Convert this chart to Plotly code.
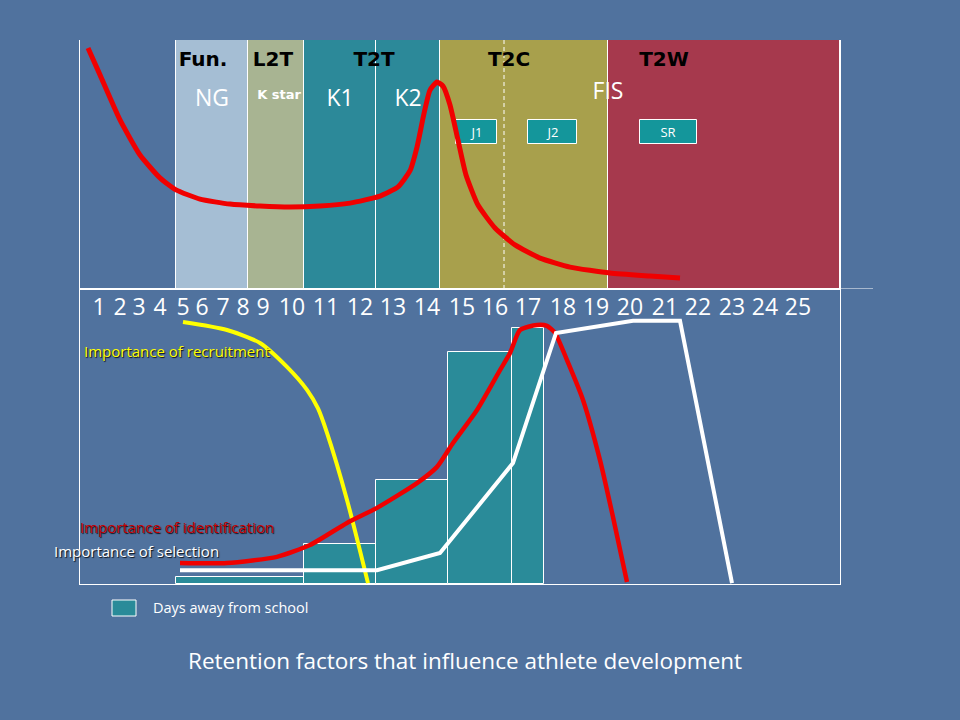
import plotly.graph_objects as go

# ---------------- data ----------------
# top panel: development stages (horizontal position scale 80..840, level 0..100)
phase_names = ["NG", "K star", "K1", "K2", "T2C", "T2W"]
phase_left = [176, 248, 304, 376, 440, 608]
phase_right = [248, 304, 376, 440, 608, 840]
phase_colors = ["rgb(165,190,212)", "rgb(168,180,146)", "rgb(44,137,153)",
                "rgb(44,137,153)", "rgb(168,160,76)", "rgb(166,57,77)"]

stage_labels = ["Fun.", "L2T", "T2T", "T2C", "T2W"]
stage_x = [203, 273, 374, 509, 664]
stage_y = [91.5, 91.5, 91.5, 91.5, 91.5]

sub_labels = ["NG", "K1", "K2", "FIS"]
sub_x = [212, 340, 408, 608]
sub_y = [75.9, 75.9, 75.9, 78.7]

kstar_label = ["K star"]
kstar_x = [279]
kstar_y = [77.5]

box_labels = ["J1", "J2", "SR"]
box_left = [456, 528, 640]
box_right = [497, 577, 697]
box_bottom = [58.2, 58.2, 58.2]
box_top = [67.9, 67.9, 67.9]

divider_x = [504, 504]
divider_y = [0, 100]

retention_x = [88, 100, 120, 140, 160, 176, 200, 230, 260, 290, 320, 350, 380, 398,
               410, 417, 424, 430, 437, 443, 450, 458, 466, 478, 495, 515, 540, 570,
               610, 650, 680]
retention_y = [96.8, 86, 67.9, 53.8, 44.6, 39.8, 36.1, 34.1, 33.3, 32.9, 33.3, 34.5,
               37.3, 41.0, 47.5, 57.0, 70.5, 79.9, 83.1, 81.5, 73.9, 59.8, 45.8, 33.7,
               24.5, 17.7, 12.4, 8.8, 6.4, 5.2, 4.4]

# bottom panel: age scale and importance curves (0..100)
age_labels = [str(a) for a in range(1, 26)]
age_x = [99, 120, 139, 160, 183, 202, 223, 243, 263, 292, 326, 360, 393, 427, 462,
         495, 528, 563, 596, 630, 665, 698, 732, 765, 798]
age_y = [93.0] * 25

days_left = [176, 304, 376, 448, 512]
days_right = [304, 376, 448, 512, 544]
days_value = [2.4, 13.6, 35.3, 78.6, 86.8]

recruit_x = [183, 227, 260, 287, 307, 318, 327, 347, 368]
recruit_y = [88.8, 86.1, 81.7, 73.6, 65.8, 59.5, 51.2, 28.5, 0.3]

ident_x = [180, 227, 277, 310, 347, 377, 417, 437, 453, 477, 500, 510, 520, 537, 547,
           555, 567, 583, 600, 613, 627]
ident_y = [7.1, 7.1, 9.2, 13.2, 20.7, 25.8, 34.2, 39.7, 47.8, 59.0, 72.5, 78.3, 86.1,
           87.8, 87.5, 85.1, 75.9, 62.4, 42.0, 22.7, 0.7]

select_x = [180, 377, 440, 513, 556, 633, 680, 732]
select_y = [4.7, 4.7, 10.5, 41.0, 85.1, 89.2, 89.2, 0.3]

series_labels = ["Importance of recruitment", "Importance of identification",
                 "Importance of selection"]
series_label_x = [82, 78, 52]
series_label_y = [79, 19.3, 11.2]

legend_label = "Days away from school"
title_text = "Retention factors that influence athlete development"

# ---------------- styling ----------------
W, H = 960, 720
BG = "rgb(80,114,158)"
TEAL = "rgb(42,139,153)"
FONT = "Open Sans"
SHADOW = "1px 1px 1px rgba(0,0,0,0.85)"

fig = go.Figure()

# phase rectangles (top panel)
fig.add_trace(go.Bar(
    x=[(l + r) / 2 for l, r in zip(phase_left, phase_right)],
    y=[100] * len(phase_left),
    width=[r - l for l, r in zip(phase_left, phase_right)],
    base=0,
    marker=dict(color=phase_colors, line=dict(color="white", width=1)),
    xaxis="x", yaxis="y", hoverinfo="skip", showlegend=False,
))

# dashed divider
fig.add_trace(go.Scatter(x=divider_x, y=divider_y, mode="lines",
                         line=dict(color="white", width=1, dash="4px,3px"),
                         xaxis="x", yaxis="y", showlegend=False, hoverinfo="skip"))

# J1 / J2 / SR boxes
fig.add_trace(go.Bar(
    x=[(l + r) / 2 for l, r in zip(box_left, box_right)],
    y=[t - b for t, b in zip(box_top, box_bottom)],
    base=box_bottom,
    width=[r - l for l, r in zip(box_left, box_right)],
    marker=dict(color="rgb(20,150,155)", line=dict(color="white", width=1)),
    text=box_labels, textposition="inside", insidetextanchor="middle",
    textangle=0, constraintext="none",
    textfont=dict(family=FONT, size=13, color="white"),
    xaxis="x", yaxis="y", hoverinfo="skip", showlegend=False,
))

# retention curve (top)
fig.add_trace(go.Scatter(x=retention_x, y=retention_y, mode="lines",
                         line=dict(color="rgb(240,0,0)", width=5, shape="spline", smoothing=0.5),
                         xaxis="x", yaxis="y", showlegend=False, hoverinfo="skip"))

# stage labels
fig.add_trace(go.Scatter(x=stage_x, y=stage_y, mode="text", text=stage_labels,
                         textfont=dict(family="DejaVu Sans", size=20, color="black", weight="bold"),
                         xaxis="x", yaxis="y", showlegend=False, hoverinfo="skip", cliponaxis=False))
fig.add_trace(go.Scatter(x=sub_x, y=sub_y, mode="text", text=sub_labels,
                         textfont=dict(family=FONT, size=23, color="white"),
                         xaxis="x", yaxis="y", showlegend=False, hoverinfo="skip", cliponaxis=False))
fig.add_trace(go.Scatter(x=kstar_x, y=kstar_y, mode="text", text=kstar_label,
                         textfont=dict(family="DejaVu Sans", size=13, color="white", weight="bold"),
                         xaxis="x", yaxis="y", showlegend=False, hoverinfo="skip", cliponaxis=False))

# days away from school bars (bottom)
fig.add_trace(go.Bar(
    x=[(l + r) / 2 for l, r in zip(days_left, days_right)],
    y=days_value, base=0,
    width=[r - l for l, r in zip(days_left, days_right)],
    marker=dict(color=TEAL, line=dict(color="white", width=1)),
    name=legend_label, xaxis="x2", yaxis="y2", hoverinfo="skip", showlegend=False,
))

# importance curves
fig.add_trace(go.Scatter(x=recruit_x, y=recruit_y, mode="lines",
                         line=dict(color="rgb(255,255,0)", width=4, shape="spline", smoothing=0.7),
                         xaxis="x2", yaxis="y2", showlegend=False, hoverinfo="skip"))
fig.add_trace(go.Scatter(x=ident_x, y=ident_y, mode="lines",
                         line=dict(color="rgb(240,0,0)", width=4.5, shape="spline", smoothing=0.6),
                         xaxis="x2", yaxis="y2", showlegend=False, hoverinfo="skip"))
fig.add_trace(go.Scatter(x=select_x, y=select_y, mode="lines",
                         line=dict(color="white", width=4),
                         xaxis="x2", yaxis="y2", showlegend=False, hoverinfo="skip"))

# age labels
fig.add_trace(go.Scatter(x=age_x, y=age_y, mode="text", text=age_labels,
                         textfont=dict(family=FONT, size=23, color="white"),
                         xaxis="x2", yaxis="y2", showlegend=False, hoverinfo="skip", cliponaxis=False))

annotations = []
label_colors = ["rgb(255,255,0)", "rgb(200,0,0)", "white"]
for t, x, y, c in zip(series_labels, series_label_x, series_label_y, label_colors):
    annotations.append(dict(x=x / W, y=y, xref="paper", yref="y2", text=t, showarrow=False,
                            xanchor="left", yanchor="middle",
                            font=dict(family=FONT, size=15, color=c, shadow=SHADOW)))
annotations.append(dict(x=151 / W, y=1 - 607 / H, xref="paper", yref="paper",
                        text=legend_label, showarrow=False, xanchor="left", yanchor="middle",
                        font=dict(family=FONT, size=14.5, color="white")))
annotations.append(dict(x=465 / W, y=1 - 660 / H, xref="paper", yref="paper",
                        text=title_text, showarrow=False, xanchor="center", yanchor="middle",
                        font=dict(family=FONT, size=22.5, color="white")))

shapes = [
    # legend swatch
    dict(type="rect", xref="paper", yref="paper", x0=112 / W, x1=136 / W,
         y0=1 - 616 / H, y1=1 - 600 / H, fillcolor=TEAL, line=dict(color="white", width=1)),
    # extension of the separating line to the right
    dict(type="line", xref="paper", yref="y", x0=840 / W, x1=873 / W, y0=0, y1=0,
         line=dict(color="white", width=1)),
]

top_dom = [1 - 289 / H, 1 - 40 / H]
bot_dom = [1 - 584 / H, 1 - 289 / H]
xdom = [80 / W, 840 / W]

axis_common = dict(showgrid=False, zeroline=False, showticklabels=False, ticks="")
fig.update_layout(
    width=W, height=H, margin=dict(l=0, r=0, t=0, b=0),
    paper_bgcolor=BG, plot_bgcolor="rgba(0,0,0,0)",
    barmode="overlay", bargap=0,
    xaxis=dict(domain=xdom, range=[80, 840], anchor="y", showline=True,
               linecolor="white", linewidth=1, **axis_common),
    yaxis=dict(domain=top_dom, range=[0, 100], anchor="x", showline=True, mirror=True,
               linecolor="white", linewidth=1, **axis_common),
    xaxis2=dict(domain=xdom, range=[80, 840], anchor="y2", matches="x", showline=True,
                mirror=True, linecolor="white", linewidth=1, **axis_common),
    yaxis2=dict(domain=bot_dom, range=[0, 100], anchor="x2", showline=True, mirror=True,
                linecolor="white", linewidth=1, **axis_common),
    annotations=annotations, shapes=shapes, showlegend=False,
)

fig.write_html(
    "out.html",
    config={"displayModeBar": False},
    post_script="document.body.style.margin='0';document.body.style.padding='0';"
                "document.body.style.background='" + BG + "';",
)
